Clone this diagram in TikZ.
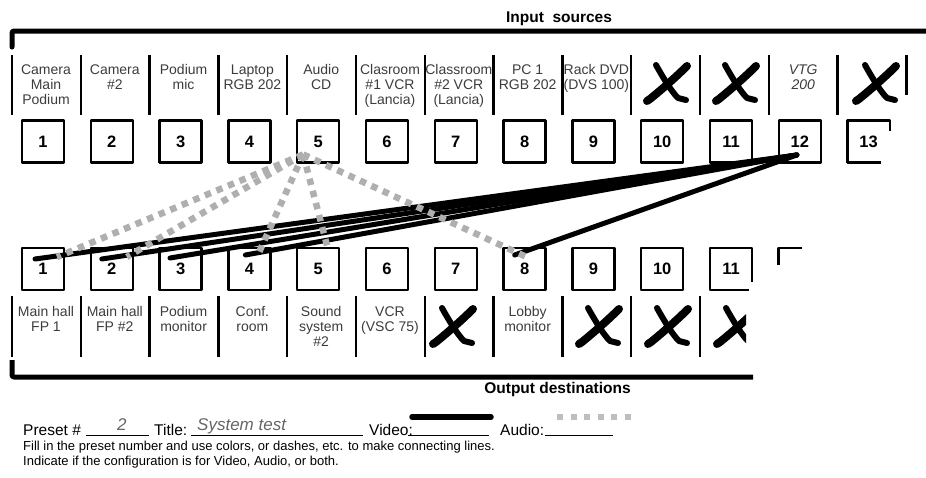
\documentclass[tikz,border=0pt]{standalone}
\usepackage{fontspec}
\setmainfont{Liberation Sans}
\usetikzlibrary{calc}
\definecolor{audgray}{RGB}{175,175,175}
\definecolor{leggray}{RGB}{190,190,190}
\definecolor{lblgray}{RGB}{60,60,60}
\begin{document}
\begin{tikzpicture}[x=1pt,y=-1pt,line join=round,
  box/.style={draw,line width=2.5pt,minimum width=42pt,minimum height=42pt,inner sep=0pt,
    font=\fontsize{16.5}{16.5}\selectfont\bfseries},
  nobox/.style={minimum width=42pt,minimum height=42pt,inner sep=0pt,
    font=\fontsize{16.5}{16.5}\selectfont\bfseries},
  sepline/.style={line width=2.4pt},
  bar/.style={line width=5pt},
  lbl/.style={align=center,anchor=north,inner sep=0pt,text=lblgray,
    font=\fontsize{14}{15}\selectfont,execute at begin node=\strut},
  vid/.style={line width=5pt,line cap=round},
  aud/.style={line width=6.5pt,draw=audgray,dash pattern=on 6.5pt off 6pt},
  uline/.style={line width=1.8pt},
  title/.style={font=\fontsize{15.5}{16}\selectfont\bfseries,anchor=base,inner sep=0pt},
  form/.style={font=\fontsize{15.5}{16}\selectfont,anchor=base west,inner sep=0pt},
  hand/.style={font=\fontsize{17}{17}\selectfont\itshape,text=black!60,anchor=base west,inner sep=0pt},
  note/.style={font=\fontsize{13}{13}\selectfont,anchor=base west,inner sep=0pt},
  bigx/.pic={
    \draw[line width=8pt,line cap=round] (19,-18) .. controls (7,-6) and (-7,6) .. (-18,15) -- (-21,17);
    \draw[line width=6pt,line cap=round] (-12,-19) .. controls (-3,-3) and (4,8) .. (10,14) -- (18,16);
  }]
\useasboundingbox (0,0) rectangle (926,477);

% ---------- Input side ----------
\node[title] (intitle) at (559,22) {Input\ \ sources};
\draw[bar,line cap=round] (12,47) -- (12,33) [rounded corners=2pt] -- (12,31) -- (926,31);
\foreach \k in {0,...,12}
  \draw[sepline] ({12+68.8*\k},55) -- ({12+68.8*\k},115);
\draw[sepline] (906.5,55) -- (906.5,95);

\node[lbl] (in1) at (46,64.5) {Camera\\Main\\Podium};
\node[lbl] (in2) at (114.8,64.5) {Camera\\\#2};
\node[lbl] (in3) at (183.6,64.5) {Podium\\mic};
\node[lbl] (in4) at (252.4,64.5) {Laptop\\RGB 202};
\node[lbl] (in5) at (321.2,64.5) {Audio\\CD};
\node[lbl] (in6) at (390,64.5) {Clasroom\\\#1 VCR\\(Lancia)};
\node[lbl] (in7) at (458.8,64.5) {Classroom\\\#2 VCR\\(Lancia)};
\node[lbl] (in8) at (527.6,64.5) {PC 1\\RGB 202};
\node[lbl] (in9) at (596.4,64.5) {Rack DVD\\(DVS 100)};
\node[lbl,font=\fontsize{14}{15}\selectfont\itshape] (in12) at (803.2,64.5) {VTG\\200};
\pic at (668,84) {bigx};
\pic at (737,84) {bigx};
\pic at (877,84) {bigx};

\foreach \i in {1,...,12}
  \node[box] (t\i) at ({43+68.8*(\i-1)},141.5) {\i};
\node[nobox] (t13) at ({43+68.8*12},141.5) {13};
\draw[line width=2.5pt] ($(t13.north east)+(0,11)$) -- (t13.north east) -- (t13.north west)
  -- (t13.south west) -- ($(t13.south east)+(-9,0)$);

% ---------- Output side ----------
\foreach \i in {1,...,10}
  \node[box] (b\i) at ({43+68.8*(\i-1)},269) {\i};
\node[nobox] (b11) at ({43+68.8*10},269) {11};
\draw[line width=2.5pt] ($(b11.south east)+(0,-8)$) -- (b11.north east) -- (b11.north west)
  -- (b11.south west) -- ($(b11.south east)+(-3,0)$);
\node[nobox] (b12) at ({43+68.8*11},269) {};
\draw[line width=2.5pt] ($(b12.north west)+(0,17)$) -- (b12.north west) -- ($(b12.north west)+(23,0)$);

\foreach \k in {0,...,10}
  \draw[sepline] ({12+68.8*\k},296) -- ({12+68.8*\k},357);
\node[lbl] (out1) at (46,306.5) {Main hall\\FP 1};
\node[lbl] (out2) at (114.8,306.5) {Main hall\\FP \#2};
\node[lbl] (out3) at (183.6,306.5) {Podium\\monitor};
\node[lbl] (out4) at (252.4,306.5) {Conf.\\room};
\node[lbl] (out5) at (321.2,306.5) {Sound\\system\\\#2};
\node[lbl] (out6) at (390,306.5) {VCR\\(VSC 75)};
\node[lbl] (out8) at (527.6,306.5) {Lobby\\monitor};
\pic at (454,327) {bigx};
\pic at (600,327) {bigx};
\pic at (669,327) {bigx};
\begin{scope}
  \clip (700,290) rectangle (746,360);
  \pic at (738,327) {bigx};
\end{scope}
\draw[bar] (12,360) -- (12,375) [rounded corners=2pt] -- (12,377) -- (753,377);
\node[title] (outtitle) at (557.5,393) {Output destinations};

% ---------- Connections ----------
\coordinate (v12) at ($(t12.center)+(-3,13.5)$);
\foreach \b/\dx/\dy in {1/-8/-10, 2/-10/-10, 3/-10.6/-11, 4/-4/-14, 8/-10/-14}
  \draw[vid] (v12) -- ($(b\b.center)+(\dx,\dy)$);
\coordinate (a5) at ($(t5.center)+(-15,13)$);
\foreach \b/\dx/\dy in {1/14/-12, 2/15/-12, 4/8/-13, 5/10/-19, 8/2/-12}
  \draw[aud] (a5) -- ($(b\b.center)+(\dx,\dy)$);

% ---------- Form ----------
\node[form] (preset) at (23,435) {Preset \#};
\draw[uline] (86,435.5) -- (149,435.5);
\node[hand] (pnum) at (117,430) {2};
\node[form] (ttl) at (154,435) {Title:};
\draw[uline] (191,435.5) -- (363,435.5);
\node[hand] (ttext) at (197,430) {System test};
\node[form] (video) at (369,435) {Video:};
\draw[uline] (408,435.5) -- (489,435.5);
\coordinate (vl1) at (412,417);
\coordinate (vl2) at (491,417);
\draw[line width=5.5pt,line cap=round] (vl1) -- (vl2);
\node[form] (audio) at (500,435) {Audio:};
\draw[uline] (545,435.5) -- (613,435.5);
\coordinate (al1) at (557,417);
\coordinate (al2) at (631,417);
\draw[line width=5.5pt,draw=leggray,dash pattern=on 6pt off 7.5pt] (al1) -- (al2);
\node[note] (note1) at (23,450) {Fill in the preset number and use colors, or dashes, etc. to make connecting lines.};
\node[note] (note2) at (23,465) {Indicate if the configuration is for Video, Audio, or both.};
\end{tikzpicture}
\end{document}
